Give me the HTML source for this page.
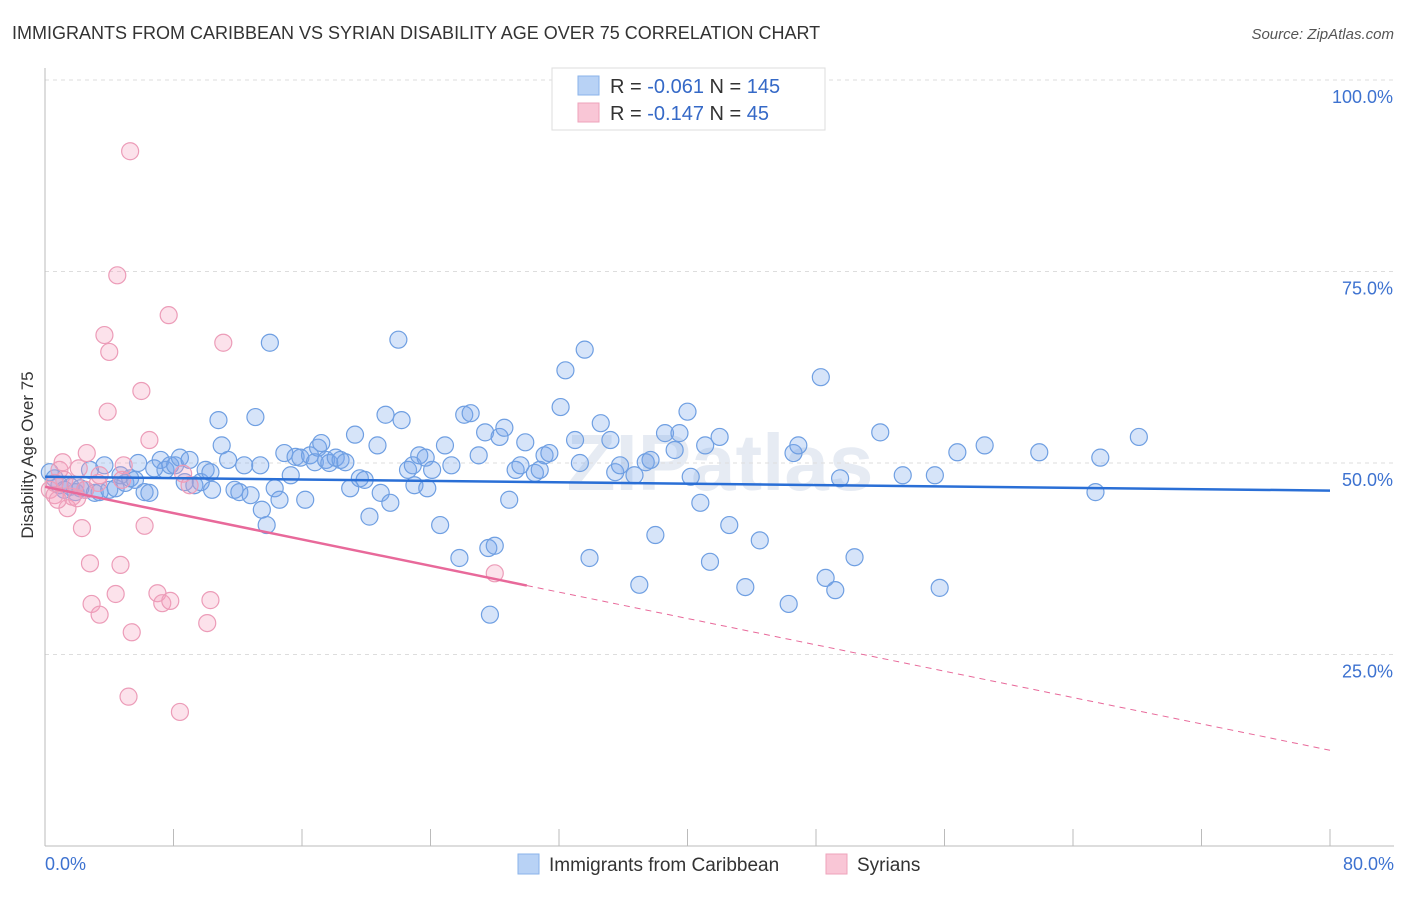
<!DOCTYPE html>
<html><head><meta charset="utf-8"><style>
body{margin:0;background:#fff;font-family:"Liberation Sans",sans-serif;}
svg text{font-family:"Liberation Sans",sans-serif;}
</style></head><body>
<svg id="chart" width="1406" height="892" xmlns="http://www.w3.org/2000/svg">
<text x="12" y="39" font-size="18" fill="#333">IMMIGRANTS FROM CARIBBEAN VS SYRIAN DISABILITY AGE OVER 75 CORRELATION CHART</text>
<text x="1394" y="39" font-size="15" fill="#555" text-anchor="end" font-style="italic">Source: ZipAtlas.com</text>
<text x="720" y="490" font-size="80" fill="#e6ebf3" text-anchor="middle" font-weight="bold">ZIPatlas</text>
<g id="grid"></g>
<g id="axes"></g>
<g id="pts"></g>
<g id="trends"></g>
<text transform="translate(33,455) rotate(-90)" font-size="17" fill="#333" text-anchor="middle">Disability Age Over 75</text>
<g>
<rect x="552" y="68" width="273" height="62" fill="#fff" stroke="#ddd"/>
<rect x="578" y="76" width="21" height="19" fill="#b8d2f5" stroke="#8ab3ea"/>
<rect x="578" y="103" width="21" height="19" fill="#f9c6d6" stroke="#eea3bb"/>
<text x="610" y="93" font-size="20" fill="#333">R = <tspan fill="#3569c7">-0.061</tspan>   N = <tspan fill="#3569c7">145</tspan></text>
<text x="610" y="120" font-size="20" fill="#333">R = <tspan fill="#3569c7"> -0.147</tspan>   N = <tspan fill="#3569c7">  45</tspan></text>
</g>
<g>
<rect x="518" y="854" width="21" height="20" fill="#b8d2f5" stroke="#8ab3ea"/>
<text x="549" y="871" font-size="19" fill="#333">Immigrants from Caribbean</text>
<rect x="826" y="854" width="21" height="20" fill="#f9c6d6" stroke="#eea3bb"/>
<text x="857" y="871" font-size="19" fill="#333">Syrians</text>
</g>
</svg>
<script>
const blueX=[0.3,0.6,0.9,1.2,1.6,1.9,2.2,2.5,2.8,3.1,3.4,3.7,4.0,4.4,4.7,5.0,5.3,5.6,5.8,6.2,6.5,6.8,7.2,7.5,7.8,8.1,8.4,8.7,9.0,9.3,9.7,10.0,10.3,10.4,10.8,11.0,11.4,11.8,12.1,12.4,12.8,13.1,13.4,13.5,13.8,14.0,14.3,14.6,14.9,15.3,15.6,15.9,16.2,16.5,16.8,17.0,17.2,17.5,17.7,18.1,18.4,18.7,19.0,19.3,19.6,19.9,20.2,20.7,20.9,21.2,21.5,22.0,22.2,22.6,22.9,23.0,23.3,23.7,23.8,24.1,24.6,24.9,25.3,25.8,26.1,26.5,27.0,27.4,27.6,27.7,28.0,28.3,28.6,28.9,29.3,29.6,29.9,30.5,30.8,31.1,31.4,32.1,32.4,33.0,33.3,33.6,33.9,34.6,35.2,35.5,35.8,36.7,37.0,37.4,37.7,38.0,38.6,39.2,39.5,40.0,40.2,40.8,41.1,41.4,42.0,42.6,43.6,44.5,46.3,46.6,46.9,48.3,48.6,49.2,49.5,50.4,52.0,53.4,55.4,55.7,56.8,58.5,61.9,65.4,65.7,68.1];
const blueY=[48.8,48.0,47.1,46.5,46.9,46.2,46.7,46.5,49.1,46.1,46.2,49.7,46.5,46.7,48.4,47.4,48.0,47.8,50.0,46.2,46.1,49.3,50.4,49.1,49.7,49.7,50.7,47.5,50.4,47.1,47.5,49.1,48.8,46.5,55.6,52.3,50.4,46.5,46.2,49.7,45.8,56.0,49.7,43.9,41.9,65.7,46.7,45.2,51.3,48.4,50.8,50.7,45.2,51.0,50.1,52.0,52.6,50.4,50.0,50.7,50.4,50.1,46.7,53.7,48.0,47.8,43.0,52.3,46.1,56.3,44.8,66.1,55.6,49.1,49.7,47.1,51.0,50.7,46.7,49.1,41.9,52.3,49.7,37.6,56.3,56.5,51.0,54.0,38.9,30.2,39.2,53.4,54.6,45.2,49.1,49.7,52.7,48.7,49.1,51.0,51.3,57.3,62.1,53.0,50.0,64.8,37.6,55.2,53.0,48.8,49.7,48.4,34.1,50.1,50.4,40.6,53.9,51.7,53.9,56.7,48.2,44.8,52.3,37.1,53.4,41.9,33.8,39.9,31.6,51.3,52.3,61.2,35.0,33.4,48.0,37.7,54.0,48.4,48.4,33.7,51.4,52.3,51.4,46.2,50.7,53.4];
const pinkX=[0.3,0.6,0.9,1.2,1.4,1.7,1.9,2.1,2.3,2.6,2.8,2.9,3.3,3.4,3.7,3.9,4.0,4.4,4.5,4.7,4.9,5.2,5.3,5.4,6.0,6.2,6.5,7.0,7.3,7.7,7.8,8.4,8.6,9.0,10.1,10.3,11.1,28.0,0.8,3.4,1.1,2.5,0.6,2.0,4.8];
const pinkY=[46.5,45.8,49.1,47.8,44.1,45.6,47.1,49.3,41.5,51.3,36.9,31.6,47.4,30.2,66.7,56.7,64.5,32.9,74.5,36.7,49.7,19.5,90.7,27.9,59.4,41.8,53.0,33.0,31.7,69.3,32.0,17.5,48.6,47.1,29.1,32.1,65.7,35.6,45.2,48.4,50.1,46.5,47.4,45.4,47.8];
const blueTrend=[48.2,46.4];
const pinkTrend=[46.9,-0.43];
const yTicks=[25,50,75,100];
const yTickLabels=["25.0%","50.0%","75.0%","100.0%"];
const xTicks=[0,8,16,24,32,40,48,56,64,72,80];

const NS="http://www.w3.org/2000/svg";
const X=v=>45+v/80*1285;
const Y=v=>846-v/100*766;
function mk(parent,tag,attrs){const e=document.createElementNS(NS,tag);for(const k in attrs)e.setAttribute(k,attrs[k]);document.getElementById(parent).appendChild(e);return e;}
yTicks.forEach((t,i)=>{
 let l=mk('grid','line',{x1:45,x2:1394,y1:Y(t),y2:Y(t),stroke:'#ddd','stroke-dasharray':'4,4'});
 
 
 let tx=mk('grid','text',{x:1393,y:Y(t)+23,'font-size':18,fill:'#3d72d0','text-anchor':'end'});
 tx.textContent=yTickLabels[i];
 
 
});
let ax=mk('axes','line',{x1:45,x2:45,y1:68,y2:846,stroke:'#bbb'});


let bx=mk('axes','line',{x1:45,x2:1394,y1:846,y2:846,stroke:'#bbb'});


xTicks.forEach(t=>{
 let l=mk('axes','line',{x1:X(t),x2:X(t),y1:829,y2:846,stroke:'#bbb'});
 
 
});
let x0=mk('axes','text',{x:45,y:870,'font-size':18,fill:'#3d72d0'});x0.textContent='0.0%';


let x1=mk('axes','text',{x:1394,y:870,'font-size':18,fill:'#3d72d0','text-anchor':'end'});x1.textContent='80.0%';


blueX.forEach((v,i)=>{
 let c=mk('pts','circle',{cx:X(v),cy:Y(blueY[i]),r:8.5,fill:'rgba(120,165,235,0.3)',stroke:'#6f9fe2','stroke-width':1.2});
 
 
});
pinkX.forEach((v,i)=>{
 let c=mk('pts','circle',{cx:X(v),cy:Y(pinkY[i]),r:8.5,fill:'rgba(245,160,190,0.3)',stroke:'#ec9cb8','stroke-width':1.2});
 
 
});
let bt=mk('trends','line',{x1:X(0),y1:Y(blueTrend[0]),x2:X(80),y2:Y(blueTrend[1]),stroke:'#2a6fd6','stroke-width':2.5});


const py=x=>pinkTrend[0]+pinkTrend[1]*x;
let pt=mk('trends','line',{x1:X(0),y1:Y(py(0)),x2:X(30),y2:Y(py(30)),stroke:'#e8699a','stroke-width':2.5});


let pd=mk('trends','line',{x1:X(30),y1:Y(py(30)),x2:X(80),y2:Y(py(80)),stroke:'#e8699a','stroke-width':1,'stroke-dasharray':'6,5'});


</script>
</body></html>
